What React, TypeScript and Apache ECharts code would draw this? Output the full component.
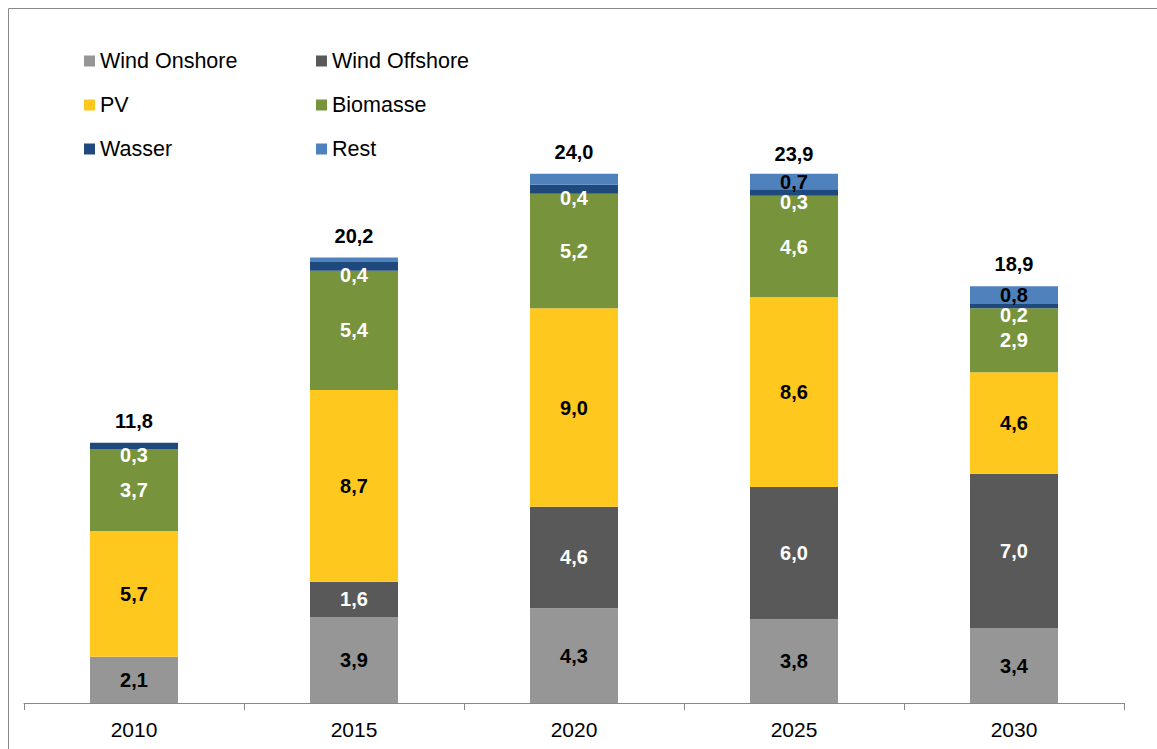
import React, { useEffect, useRef } from "react";
import * as echarts from "echarts";

const categories = ["2010", "2015", "2020", "2025", "2030"];
const windOnshore = [2.1, 3.9, 4.3, 3.8, 3.4];
const windOffshore = [0, 1.6, 4.6, 6.0, 7.0];
const pv = [5.7, 8.7, 9.0, 8.6, 4.6];
const biomasse = [3.7, 5.4, 5.2, 4.6, 2.9];
const wasser = [0.3, 0.4, 0.4, 0.3, 0.2];
const rest = [0, 0.2, 0.5, 0.7, 0.8];
const totals = [11.8, 20.2, 24.0, 23.9, 18.9];

const FONT = '"Liberation Sans", Arial, sans-serif';
const fmt = (v: number) => v.toFixed(1).replace(".", ",");

export default function App() {
  const ref = useRef<HTMLDivElement>(null);
  useEffect(() => {
    if (!ref.current) return;
    const chart = echarts.init(ref.current, null, { renderer: "svg" });

    const barSeries = (
      name: string,
      data: number[],
      color: string,
      labelColor: string,
      extra: any = {}
    ) => ({
      name,
      type: "bar",
      stack: "total",
      barWidth: 88,
      data,
      itemStyle: { color },
      label: {
        show: true,
        position: "inside",
        color: labelColor,
        fontFamily: FONT,
        fontWeight: "bold",
        fontSize: 20,
        formatter: (p: any) => (p.value > 0 ? fmt(p.value) : ""),
        ...extra,
      },
    });

    const legendCommon = {
      orient: "vertical",
      icon: "rect",
      itemWidth: 11,
      itemHeight: 11,
      itemGap: 22,
      top: 50,
      padding: 0,
      textStyle: { fontFamily: FONT, fontSize: 21.5, color: "#000", lineHeight: 21 },
      selectedMode: false,
    };

    chart.setOption({
      animation: false,
      backgroundColor: "#fff",
      textStyle: { fontFamily: FONT },
      legend: [
        { ...legendCommon, left: 84, data: ["Wind Onshore", "PV", "Wasser"] },
        { ...legendCommon, left: 316, data: ["Wind Offshore", "Biomasse", "Rest"] },
      ],
      grid: { left: 24, right: 33, top: 41.5, bottom: 46 },
      xAxis: {
        type: "category",
        data: categories,
        axisLine: { lineStyle: { color: "#888", width: 1 } },
        axisTick: { show: true, length: 7, lineStyle: { color: "#888" } },
        axisLabel: { color: "#000", fontSize: 21, fontFamily: FONT, margin: 16 },
      },
      yAxis: { type: "value", min: 0, max: 30, show: false, splitLine: { show: false } },
      graphic: [
        {
          type: "rect",
          shape: { x: 8.5, y: 8.5, width: 1400, height: 1000 },
          style: { fill: "none", stroke: "#8a8a8a", lineWidth: 1 },
          silent: true,
        },
      ],
      series: [
        barSeries("Wind Onshore", windOnshore, "#969696", "#000"),
        barSeries("Wind Offshore", windOffshore, "#595959", "#fff"),
        barSeries("PV", pv, "#ffc81e", "#000"),
        barSeries("Biomasse", biomasse, "#77933c", "#fff"),
        barSeries("Wasser", wasser, "#1f497d", "#fff", { offset: [0, 9], lineHeight: 14 }),
        barSeries("Rest", rest, "#4f81bd", "#000", {
          lineHeight: 14,
          formatter: (p: any) => (p.value >= 0.6 ? fmt(p.value) : ""),
        }),
        {
          name: "Summe",
          type: "scatter",
          data: totals,
          symbolSize: 0,
          silent: true,
          itemStyle: { opacity: 1 },
          label: {
            show: true,
            position: "top",
            distance: 12,
            color: "#000",
            opacity: 1,
            fontFamily: FONT,
            fontWeight: "bold",
            fontSize: 20,
            formatter: (p: any) => fmt(p.value),
          },
        },
      ],
    });
    return () => chart.dispose();
  }, []);
  return (
    <div
      ref={ref}
      style={{ position: "absolute", left: 0, top: 0, width: 1157, height: 749 }}
    />
  );
}
